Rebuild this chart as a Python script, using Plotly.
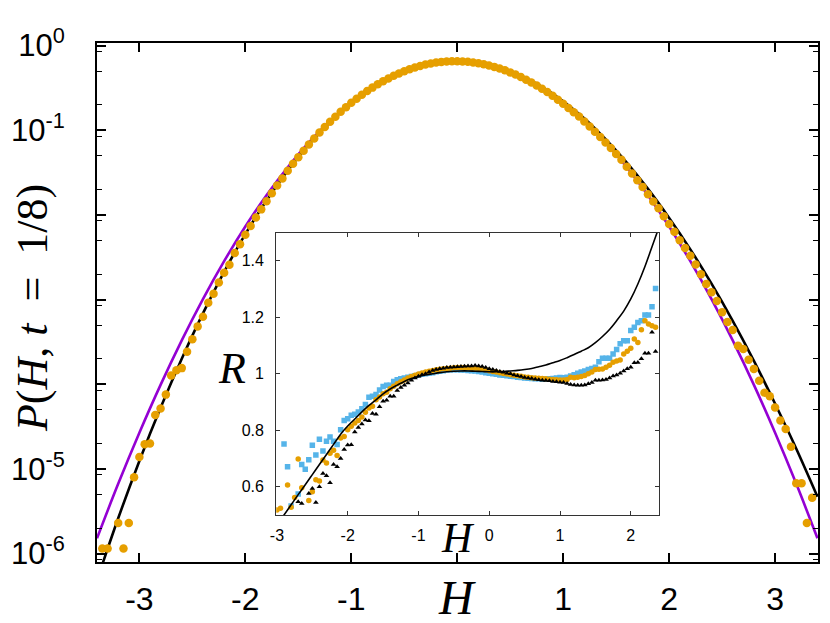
import numpy as np
import plotly.graph_objects as go

# ---------------- main panel data (log10 P) ----------------
# orange points, H = -3.35 ... 3.35 step 0.05
orange_logP = [
    -5.94, -5.94, None, -5.64, -5.94, -5.64, -5.10, -4.859, -4.709, -4.700,
    -4.363, -4.286, -4.123, -3.896, -3.835, -3.810, -3.616, -3.469, -3.317, -3.203,
    -3.038, -2.931, -2.798, -2.684, -2.589, -2.450, -2.346, -2.234, -2.131, -2.031,
    -1.935, -1.840, -1.744, -1.653, -1.569, -1.479, -1.397, -1.318, -1.243, -1.169,
    -1.098, -1.028, -0.963, -0.901, -0.841, -0.783, -0.729, -0.677, -0.629, -0.582,
    -0.538, -0.497, -0.458, -0.422, -0.389, -0.357, -0.329, -0.303, -0.280, -0.259,
    -0.241, -0.225, -0.211, -0.201, -0.193, -0.188, -0.185, -0.185, -0.188, -0.192,
    -0.199, -0.210, -0.221, -0.235, -0.252, -0.271, -0.293, -0.317, -0.342, -0.371,
    -0.403, -0.436, -0.471, -0.510, -0.550, -0.594, -0.639, -0.687, -0.737, -0.788,
    -0.839, -0.897, -0.956, -1.017, -1.081, -1.145, -1.211, -1.280, -1.350, -1.432,
    -1.512, -1.592, -1.672, -1.756, -1.842, -1.923, -2.015, -2.108, -2.200, -2.300,
    -2.390, -2.482, -2.586, -2.700, -2.817, -2.915, -3.018, -3.149, -3.266, -3.360,
    -3.547, -3.585, -3.711, -3.819, -3.960, -4.100, -4.142, -4.274, -4.430, -4.530,
    -4.740, -5.170, -5.170, -5.640, -5.340,
]
H_main = np.round(np.linspace(-3.35, 3.35, len(orange_logP)), 2)

# curves, H = -3.4 ... 3.4 step 0.2
H_curve = [-3.4, -3.2, -3.0, -2.8, -2.6, -2.4, -2.2, -2.0, -1.8, -1.6, -1.4, -1.2,
           -1.0, -0.8, -0.6, -0.4, -0.2, 0.0, 0.2, 0.4, 0.6, 0.8, 1.0, 1.2, 1.4,
           1.6, 1.8, 2.0, 2.2, 2.4, 2.6, 2.8, 3.0, 3.2, 3.4]
purple_logP = [-5.820, -5.177, -4.573, -4.008, -3.482, -2.995, -2.547, -2.138, -1.768,
               -1.437, -1.145, -0.891, -0.677, -0.502, -0.365, -0.268, -0.209, -0.190,
               -0.209, -0.268, -0.365, -0.502, -0.677, -0.891, -1.145, -1.437, -1.768,
               -2.138, -2.547, -2.995, -3.482, -4.008, -4.573, -5.177, -5.820]
black_logP = [-6.315, -5.584, -4.906, -4.279, -3.699, -3.163, -2.672, -2.227, -1.831,
              -1.479, -1.169, -0.903, -0.681, -0.502, -0.362, -0.264, -0.205, -0.187,
              -0.206, -0.263, -0.357, -0.489, -0.657, -0.862, -1.107, -1.383, -1.693,
              -2.036, -2.407, -2.813, -3.252, -3.725, -4.231, -4.762, -5.329]

# ---------------- inset data (R) ----------------
# markers, H = -3.00 ... 2.35 step 0.05
R_orange = [
    0.518, 0.524, 0.45, 0.606, 0.527, 0.562, 0.698, 0.596, 0.47, 0.551,
    0.582, 0.625, 0.620, 0.695, 0.684, 0.719, 0.729, 0.711, 0.773, 0.778,
    0.802, 0.814, 0.826, 0.835, 0.847, 0.864, 0.879, 0.885, 0.908, 0.918,
    0.929, 0.935, 0.947, 0.956, 0.965, 0.972, 0.978, 0.985, 0.990, 0.995,
    0.999, 1.003, 1.006, 1.009, 1.012, 1.014, 1.016, 1.018, 1.019, 1.020,
    1.021, 1.022, 1.022, 1.022, 1.021, 1.020, 1.020, 1.019, 1.017, 1.014,
    1.011, 1.008, 1.006, 1.004, 1.001, 0.999, 0.997, 0.995, 0.993, 0.991,
    0.989, 0.988, 0.986, 0.985, 0.984, 0.983, 0.982, 0.981, 0.980, 0.979,
    0.978, 0.978, 0.980, 0.988, 0.986, 0.988, 0.990, 0.994, 1.000, 1.006,
    1.015, 1.016, 1.017, 1.023, 1.030, 1.041, 1.045, 1.049, 1.070, 1.080,
    1.090, 1.123, 1.111, 1.156, 1.188, 1.176, 1.170, 1.165,
]
R_blue = [
    None, None, 0.751, 0.671, 0.532, None, 0.574, 0.679, 0.662, 0.696,
    0.747, 0.712, 0.768, 0.727, 0.761, 0.776, 0.761, 0.750, 0.802, 0.835,
    0.841, 0.853, 0.857, 0.865, 0.876, 0.891, 0.917, 0.920, 0.927, 0.943,
    0.955, 0.959, 0.959, 0.973, 0.979, 0.982, 0.985, 0.988, 0.990, 0.993,
    0.996, 0.998, 1.000, 1.002, 1.004, 1.007, 1.009, 1.011, 1.013, 1.014,
    1.014, 1.014, 1.013, 1.013, 1.012, 1.011, 1.010, 1.008, 1.006, 1.004,
    1.002, 1.000, 0.998, 0.996, 0.995, 0.993, 0.991, 0.990, 0.988, 0.987,
    0.985, 0.984, 0.983, 0.982, 0.982, 0.981, 0.981, 0.982, 0.983, 0.985,
    0.987, 0.986, 0.988, 0.992, 0.997, 1.002, 1.006, 1.010, 1.015, 1.019,
    1.023, 1.043, 1.055, 1.055, 1.055, 1.070, 1.086, 1.106, 1.117, 1.117,
    1.153, 1.165, 1.182, 1.188, 1.208, 1.208, 1.237, 1.302,
]
R_black_pts = [
    None, None, None, None, None, None, 0.547, 0.541, None, 0.576,
    0.594, 0.544, 0.600, 0.647, 0.639, 0.614, 0.679, 0.671, 0.700, 0.732,
    0.748, 0.749, 0.794, 0.810, 0.822, 0.836, 0.834, 0.859, 0.857, 0.883,
    0.903, 0.906, 0.920, 0.920, 0.941, 0.951, 0.959, 0.967, 0.977, 0.985,
    0.991, 0.997, 1.000, 1.006, 1.012, 1.015, 1.018, 1.020, 1.022, 1.023,
    1.024, 1.025, 1.026, 1.027, 1.028, 1.028, 1.029, 1.028, 1.026, 1.022,
    1.018, 1.015, 1.012, 1.008, 1.005, 1.002, 1.000, 0.996, 0.993, 0.990,
    0.987, 0.985, 0.983, 0.981, 0.979, 0.977, 0.976, 0.975, 0.973, 0.972,
    0.970, 0.969, 0.966, 0.962, 0.960, 0.959, 0.959, 0.960, 0.965, 0.969,
    0.977, 0.977, 0.978, 0.980, 0.985, 0.992, 0.996, 1.002, 1.010, 1.018,
    1.023, 1.039, 1.040, 1.053, 1.073, 1.073, 1.147, 1.079,
]
H_inset = np.round(np.linspace(-3.0, 2.35, len(R_orange)), 2)

# theory line, H = -3.0 ... 2.4 step 0.1
R_theory = [0.465, 0.500, 0.536, 0.572, 0.607, 0.643, 0.679, 0.714, 0.750, 0.786,
            0.815, 0.840, 0.865, 0.888, 0.908, 0.929, 0.946, 0.960, 0.973, 0.983,
            0.990, 0.996, 1.000, 1.004, 1.007, 1.009, 1.010, 1.010, 1.009, 1.008,
            1.007, 1.007, 1.008, 1.010, 1.012, 1.015, 1.019, 1.025, 1.031, 1.039,
            1.047, 1.057, 1.068, 1.080, 1.092, 1.110, 1.132, 1.157, 1.188, 1.222,
            1.265, 1.318, 1.380, 1.450, 1.520]
H_theory = np.round(np.linspace(-3.0, 2.4, len(R_theory)), 2)

main_xticks = [-3, -2, -1, 0, 1, 2, 3]
main_xtext = ["-3", "-2", "-1", "", "1", "2", "3"]
main_yticks = [1, 1e-1, 1e-2, 1e-3, 1e-4, 1e-5, 1e-6]
main_ytext = ["10<sup>0</sup>", "10<sup>-1</sup>", "", "", "", "10<sup>-5</sup>", "10<sup>-6</sup>"]
inset_xticks = [-3, -2, -1, 0, 1, 2]
inset_xtext = ["-3", "-2", "-1", "0", "1", "2"]
inset_yticks = [0.6, 0.8, 1.0, 1.2, 1.4]
inset_ytext = ["0.6", "0.8", "1", "1.2", "1.4"]


def pw(v):
    return [None if a is None else 10 ** a for a in v]


ORANGE = "#E69F00"
PURPLE = "#9400D3"
BLUE = "#56B4E9"

fig = go.Figure()
fig.add_trace(go.Scatter(x=H_curve, y=pw(purple_logP), mode="lines",
                         line=dict(color=PURPLE, width=2.6, shape="spline"),
                         showlegend=False))
fig.add_trace(go.Scatter(x=H_curve, y=pw(black_logP), mode="lines",
                         line=dict(color="black", width=2.6, shape="spline"),
                         showlegend=False))
fig.add_trace(go.Scatter(x=H_main, y=pw(orange_logP), mode="markers",
                         marker=dict(color=ORANGE, size=8.5, symbol="circle"),
                         showlegend=False))

# inset
fig.add_trace(go.Scatter(x=H_inset, y=R_blue, mode="markers", xaxis="x2", yaxis="y2",
                         marker=dict(color=BLUE, size=5.5, symbol="square"),
                         showlegend=False))
fig.add_trace(go.Scatter(x=H_inset, y=R_orange, mode="markers", xaxis="x2", yaxis="y2",
                         marker=dict(color=ORANGE, size=5.5, symbol="circle"),
                         showlegend=False))
fig.add_trace(go.Scatter(x=H_inset, y=R_black_pts, mode="markers", xaxis="x2", yaxis="y2",
                         marker=dict(color="black", size=5, symbol="triangle-up"),
                         showlegend=False))
fig.add_trace(go.Scatter(x=H_theory, y=R_theory, mode="lines", xaxis="x2", yaxis="y2",
                         line=dict(color="black", width=1.6, shape="spline"),
                         showlegend=False))

minor_y = []
for n in range(-7, 1):
    for m in (2, 5, 8.5):
        minor_y.append(m * 10.0 ** n)

SANS = "Liberation Sans, Arial, sans-serif"
SERIF = "Liberation Serif, Times New Roman, serif"

# page body has an 8px default margin: figure is 822x615 so it fits the 830x623 window
fig.update_layout(
    width=822, height=615,
    margin=dict(l=89, r=12, t=35, b=61, autoexpand=False),
    paper_bgcolor="white", plot_bgcolor="white",
    xaxis=dict(domain=[0, 1], range=[-3.4, 3.405], tickvals=main_xticks, ticktext=main_xtext,
               ticks="inside", ticklen=9, tickwidth=1.5, tickcolor="black",
               showline=True, linewidth=2, linecolor="black", mirror="ticks",
               showgrid=False, zeroline=False, ticklabelstandoff=8, automargin=False,
               tickfont=dict(family=SANS, size=32, color="black")),
    yaxis=dict(type="log", range=[-6.10, 0.03], tickvals=main_yticks, ticktext=main_ytext,
               ticks="inside", ticklen=9, tickwidth=1.5, tickcolor="black",
               showline=True, linewidth=2, linecolor="black", mirror="ticks",
               showgrid=False, zeroline=False, ticklabelstandoff=24, automargin=False,
               minor=dict(tickvals=minor_y, ticks="inside", ticklen=5, tickwidth=1.3,
                          tickcolor="black", showgrid=False),
               tickfont=dict(family=SANS, size=31, color="black")),
    xaxis2=dict(domain=[0.2486, 0.7796], anchor="y2", range=[-3.01, 2.4],
                tickvals=inset_xticks, ticktext=inset_xtext,
                ticks="inside", ticklen=4, tickwidth=1, tickcolor="#333",
                showline=True, linewidth=1.2, linecolor="#333", mirror="ticks",
                showgrid=False, zeroline=False, ticklabelstandoff=6, automargin=False,
                tickfont=dict(family=SANS, size=16, color="black")),
    yaxis2=dict(domain=[0.0906, 0.6347], anchor="x2", range=[0.5, 1.5],
                tickvals=inset_yticks, ticktext=inset_ytext,
                ticks="inside", ticklen=4, tickwidth=1, tickcolor="#333",
                showline=True, linewidth=1.2, linecolor="#333", mirror="ticks",
                showgrid=False, zeroline=False, ticklabelstandoff=8, automargin=False,
                tickfont=dict(family=SANS, size=16, color="black")),
    annotations=[
        dict(text="<i>P</i>(<i>H</i>, <i>t</i>  =  1/8)", xref="paper", yref="paper",
             x=-0.0897, y=0.490, xanchor="center", yanchor="middle", textangle=-90,
             showarrow=False, font=dict(family=SERIF, size=44, color="black")),
        dict(text="<i>H</i>", xref="x", yref="paper", x=0, y=-0.068,
             xanchor="center", yanchor="middle", showarrow=False,
             font=dict(family=SERIF, size=48, color="black")),
        dict(text="<i>H</i>", xref="paper", yref="paper", x=0.5005, y=0.0457,
             xanchor="center", yanchor="middle", showarrow=False,
             font=dict(family=SERIF, size=42, color="black")),
        dict(text="<i>R</i>", xref="paper", yref="paper", x=0.1876, y=0.3737,
             xanchor="center", yanchor="middle", showarrow=False,
             font=dict(family=SERIF, size=44, color="black")),
    ],
)

fig.write_html("out.html")
